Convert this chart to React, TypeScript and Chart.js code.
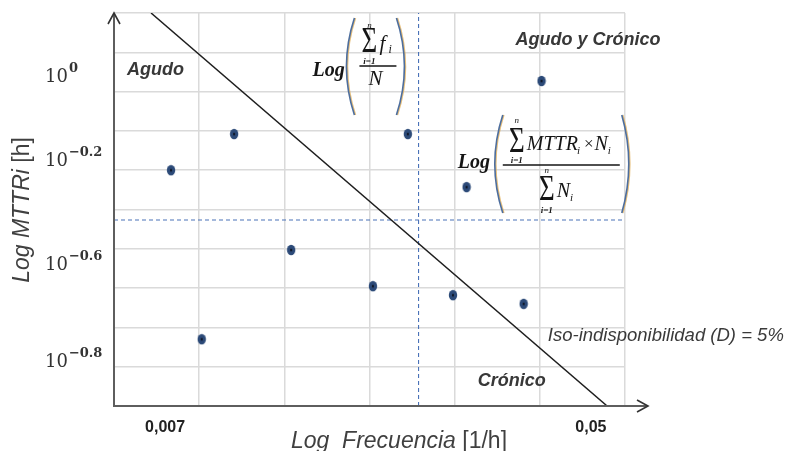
import React, { useEffect, useRef } from "react";
import { Chart, registerables } from "chart.js";

Chart.register(...registerables);

// Both axes are drawn in "grid units": 6 columns on the frequency axis, 10 rows on the MTTR axis
const xMin = 0;
const xMax = 6;
const yMin = 0;
const yMax = 10;

// Failure modes: Log frequency (x) and Log MTTR (y), grid units
const pointX = [0.67, 1.41, 2.08, 1.03, 3.04, 3.45, 4.14, 5.02, 3.98, 4.81];
const pointY = [6.0, 6.92, 3.97, 1.7, 3.05, 6.92, 5.57, 8.27, 2.82, 2.6];

// Iso-unavailability line (D = 5%)
const isoX = [0.435, 5.79];
const isoY = [10, 0];

// Thresholds: mean frequency (vertical) and weighted mean MTTR (horizontal)
const freqThreshold = 3.576;
const mttrThreshold = 4.733;

// Tick labels
const xTickPos = [0.6, 5.6];
const xTickLabels = ["0,007", "0,05"];
const yTickPos = [8.25, 6.11, 3.46, 0.99];
const yTickBase = ["10", "10", "10", "10"];
const yTickExp = ["0", "\u22120.2", "\u22120.6", "\u22120.8"];

// Region labels
const regionLabels = ["Agudo", "Agudo y Crónico", "Crónico"];
const regionX = [0.153, 5.565, 4.671];
const regionY = [8.42, 9.186, 0.509];
const regionAlign: CanvasTextAlign[] = ["left", "center", "center"];

const isoLabel = "Iso-indisponibilidad (D) = 5%";
const isoLabelX = 5.094;
const isoLabelY = 1.654;

const formula1Pos = [2.776, 8.651];
const formula2Pos = [4.518, 6.158];

const SERIF = '"Liberation Serif", "Times New Roman", serif';
const SANS = '"Liberation Sans", Arial, sans-serif';

function sigma(ctx: CanvasRenderingContext2D, cx: number, base: number) {
  ctx.save();
  ctx.font = `27px ${SERIF}`;
  ctx.textAlign = "center";
  ctx.textBaseline = "alphabetic";
  ctx.translate(cx, base);
  ctx.scale(1, 1.34);
  ctx.fillText("\u03a3", 0, 0);
  ctx.restore();
}

function limits(ctx: CanvasRenderingContext2D, cx: number, topBase: number, botBase: number) {
  ctx.save();
  ctx.textAlign = "center";
  ctx.font = `italic 9px ${SERIF}`;
  ctx.fillText("n", cx, topBase);
  ctx.font = `bold italic 9px ${SERIF}`;
  ctx.fillText("i=1", cx, botBase);
  ctx.restore();
}

function paren(ctx: CanvasRenderingContext2D, x: number, ctrl: number, y0: number, y1: number) {
  ctx.save();
  ctx.lineWidth = 1.6;
  ctx.strokeStyle = "rgba(225,175,90,0.8)";
  ctx.beginPath();
  ctx.moveTo(x + 1, y0);
  ctx.quadraticCurveTo(ctrl + 1, (y0 + y1) / 2, x + 1, y1);
  ctx.stroke();
  ctx.strokeStyle = "#4d6e9e";
  ctx.beginPath();
  ctx.moveTo(x, y0);
  ctx.quadraticCurveTo(ctrl, (y0 + y1) / 2, x, y1);
  ctx.stroke();
  ctx.restore();
}

const overlayPlugin = {
  id: "overlay",
  afterDraw(chart: any) {
    const { ctx, chartArea: ca, scales } = chart;
    const X = (v: number) => scales.x.getPixelForValue(v);
    const Y = (v: number) => scales.y.getPixelForValue(v);
    ctx.save();

    // axes with arrows
    ctx.strokeStyle = "#5e5e5e";
    ctx.lineWidth = 2;
    ctx.beginPath();
    ctx.moveTo(ca.left, ca.bottom);
    ctx.lineTo(ca.left, ca.top);
    ctx.moveTo(ca.left - 1, ca.bottom);
    ctx.lineTo(ca.right + 23, ca.bottom);
    ctx.stroke();
    ctx.strokeStyle = "#333";
    ctx.lineWidth = 1.6;
    ctx.beginPath();
    ctx.moveTo(ca.left - 6, ca.top + 11);
    ctx.lineTo(ca.left, ca.top);
    ctx.lineTo(ca.left + 6, ca.top + 11);
    ctx.moveTo(ca.right + 12, ca.bottom - 6);
    ctx.lineTo(ca.right + 23, ca.bottom);
    ctx.lineTo(ca.right + 12, ca.bottom + 6);
    ctx.stroke();

    // y tick labels 10^x
    ctx.textBaseline = "alphabetic";
    ctx.textAlign = "left";
    ctx.fillStyle = "#333";
    yTickPos.forEach((v, i) => {
      const y = Y(v);
      const bx = ca.left - 69;
      ctx.font = `18px "DejaVu Serif", serif`;
      ctx.fillText(yTickBase[i], bx, y);
      const w = ctx.measureText(yTickBase[i]).width;
      ctx.font = `bold 13px "DejaVu Serif", serif`;
      ctx.fillText(yTickExp[i], bx + w + 1, y - 10);
    });

    // x tick labels
    ctx.textAlign = "center";
    ctx.font = `bold 16px ${SANS}`;
    ctx.fillStyle = "#222";
    xTickPos.forEach((v, i) => {
      ctx.fillText(xTickLabels[i], X(v), ca.bottom + 26);
    });

    // axis titles
    ctx.fillStyle = "#404040";
    ctx.textAlign = "left";
    {
      const p1 = "Log  Frecuencia ";
      const p2 = "[1/h]";
      ctx.font = `italic 23px ${SANS}`;
      const w1 = ctx.measureText(p1).width;
      ctx.font = `23px ${SANS}`;
      const w2 = ctx.measureText(p2).width;
      const sx = ca.left + 285 - (w1 + w2) / 2;
      ctx.font = `italic 23px ${SANS}`;
      ctx.fillText(p1, sx, ca.bottom + 42);
      ctx.font = `23px ${SANS}`;
      ctx.fillText(p2, sx + w1, ca.bottom + 42);
    }
    {
      const p1 = "Log MTTRi ";
      const p2 = "[h]";
      ctx.font = `italic 23px ${SANS}`;
      const w1 = ctx.measureText(p1).width;
      ctx.font = `23px ${SANS}`;
      const w2 = ctx.measureText(p2).width;
      ctx.save();
      ctx.translate(29, 210);
      ctx.rotate(-Math.PI / 2);
      const sx = -(w1 + w2) / 2;
      ctx.font = `italic 23px ${SANS}`;
      ctx.fillText(p1, sx, 0);
      ctx.font = `23px ${SANS}`;
      ctx.fillText(p2, sx + w1, 0);
      ctx.restore();
    }

    // region labels
    ctx.font = `bold italic 18px ${SANS}`;
    ctx.fillStyle = "#383838";
    regionLabels.forEach((t, i) => {
      ctx.textAlign = regionAlign[i];
      ctx.fillText(t, X(regionX[i]), Y(regionY[i]));
    });
    ctx.textAlign = "left";
    ctx.font = `italic 18.5px ${SANS}`;
    ctx.fillStyle = "#3a3a3a";
    ctx.fillText(isoLabel, X(isoLabelX), Y(isoLabelY));

    // formula 1: Log( sum f_i / N )
    {
      const ax = X(formula1Pos[0]);
      const ay = Y(formula1Pos[1]);
      ctx.fillStyle = "#151515";
      ctx.textAlign = "left";
      ctx.font = `bold italic 20px ${SERIF}`;
      ctx.fillText("Log", ax - 38, ay + 10);
      paren(ctx, ax + 4, ax - 12, ay - 48, ay + 49);
      paren(ctx, ax + 46, ax + 62, ay - 48, ay + 49);
      sigma(ctx, ax + 19, ay - 14);
      limits(ctx, ax + 19, ay - 38, ay - 2);
      ctx.textAlign = "left";
      ctx.font = `italic 21px ${SERIF}`;
      ctx.fillText("f", ax + 29, ay - 16);
      ctx.font = `italic 12px ${SERIF}`;
      ctx.fillText("i", ax + 38, ay - 13);
      ctx.strokeStyle = "#151515";
      ctx.lineWidth = 1.4;
      ctx.beginPath();
      ctx.moveTo(ax + 9, ay);
      ctx.lineTo(ax + 46, ay);
      ctx.stroke();
      ctx.textAlign = "center";
      ctx.font = `italic 21px ${SERIF}`;
      ctx.fillText("N", ax + 25, ay + 19);
    }

    // formula 2: Log( sum MTTR_i x N_i / sum N_i )
    {
      const ax = X(formula2Pos[0]);
      const ay = Y(formula2Pos[1]);
      ctx.fillStyle = "#151515";
      ctx.textAlign = "left";
      ctx.font = `bold italic 20px ${SERIF}`;
      ctx.fillText("Log", ax - 41, ay + 4);
      paren(ctx, ax + 4, ax - 12, ay - 49, ay + 49);
      paren(ctx, ax + 123, ax + 137, ay - 49, ay + 49);
      sigma(ctx, ax + 18, ay - 12);
      limits(ctx, ax + 18, ay - 41, ay - 1);
      let cx = ax + 28;
      ctx.textAlign = "left";
      ctx.font = `italic 20px ${SERIF}`;
      ctx.fillText("MTTR", cx, ay - 14);
      cx += ctx.measureText("MTTR").width;
      ctx.font = `italic 11px ${SERIF}`;
      ctx.fillText("i", cx - 1, ay - 10);
      cx += 6;
      ctx.font = `17px ${SERIF}`;
      ctx.fillText("\u00d7", cx, ay - 15);
      cx += ctx.measureText("\u00d7").width + 1;
      ctx.font = `italic 20px ${SERIF}`;
      ctx.fillText("N", cx, ay - 14);
      cx += ctx.measureText("N").width;
      ctx.font = `italic 11px ${SERIF}`;
      ctx.fillText("i", cx, ay - 10);
      ctx.strokeStyle = "#151515";
      ctx.lineWidth = 1.4;
      ctx.beginPath();
      ctx.moveTo(ax + 4, ay + 1);
      ctx.lineTo(ax + 121, ay + 1);
      ctx.stroke();
      sigma(ctx, ax + 48, ay + 36);
      limits(ctx, ax + 48, ay + 9, ay + 49);
      ctx.textAlign = "left";
      ctx.font = `italic 20px ${SERIF}`;
      ctx.fillText("N", ax + 58, ay + 33);
      const nw = ctx.measureText("N").width;
      ctx.font = `italic 11px ${SERIF}`;
      ctx.fillText("i", ax + 58 + nw, ay + 37);
    }

    ctx.restore();
  },
};

export default function App() {
  const ref = useRef<HTMLCanvasElement | null>(null);

  useEffect(() => {
    const canvas = ref.current;
    if (!canvas) return;

    const pt = document.createElement("canvas");
    pt.width = 10;
    pt.height = 12;
    const pc = pt.getContext("2d")!;
    pc.fillStyle = "#2c4a78";
    pc.beginPath();
    pc.ellipse(5, 6, 4.2, 5.3, 0, 0, Math.PI * 2);
    pc.fill();
    pc.fillStyle = "#0b0e18";
    pc.beginPath();
    pc.ellipse(5, 6, 0.9, 1.5, 0, 0, Math.PI * 2);
    pc.fill();

    const gridOpts = { color: "#dadada", lineWidth: 1.5, drawTicks: false };

    const chart = new Chart(canvas, {
      type: "scatter",
      data: {
        datasets: [
          {
            label: "Iso-indisponibilidad",
            type: "line",
            data: isoX.map((x, i) => ({ x, y: isoY[i] })),
            borderColor: "#1e1e1e",
            borderWidth: 1.5,
            pointRadius: 0,
            fill: false,
            tension: 0,
          } as any,
          {
            label: "Frecuencia media",
            type: "line",
            data: [
              { x: freqThreshold, y: yMin },
              { x: freqThreshold, y: yMax },
            ],
            borderColor: "#4a72b8",
            borderDash: [4, 3],
            borderWidth: 1.1,
            pointRadius: 0,
            fill: false,
          } as any,
          {
            label: "MTTR medio",
            type: "line",
            data: [
              { x: xMin, y: mttrThreshold },
              { x: xMax, y: mttrThreshold },
            ],
            borderColor: "#4a72b8",
            borderDash: [4, 3],
            borderWidth: 1.1,
            pointRadius: 0,
            fill: false,
          } as any,
          {
            label: "Modos de fallo",
            data: pointX.map((x, i) => ({ x, y: pointY[i] })),
            pointStyle: pt as any,
            pointRadius: 5,
            backgroundColor: "#2c4a78",
            borderColor: "#2c4a78",
          },
        ],
      },
      options: {
        animation: false,
        responsive: false,
        maintainAspectRatio: false,
        layout: { padding: { left: 114, right: 163, top: 13, bottom: 45 } },
        plugins: { legend: { display: false }, tooltip: { enabled: false } },
        scales: {
          x: {
            type: "linear",
            min: xMin,
            max: xMax,
            ticks: { display: false, stepSize: 1 },
            grid: gridOpts,
            border: { display: false },
          },
          y: {
            type: "linear",
            min: yMin,
            max: yMax,
            ticks: { display: false, stepSize: 1 },
            grid: gridOpts,
            border: { display: false },
          },
        },
      },
      plugins: [overlayPlugin],
    });

    return () => chart.destroy();
  }, []);

  return (
    <div style={{ position: "fixed", left: 0, top: 0, width: 788, height: 451, background: "#fff" }}>
      <canvas ref={ref} width={788} height={451} style={{ display: "block", width: 788, height: 451 }} />
    </div>
  );
}
